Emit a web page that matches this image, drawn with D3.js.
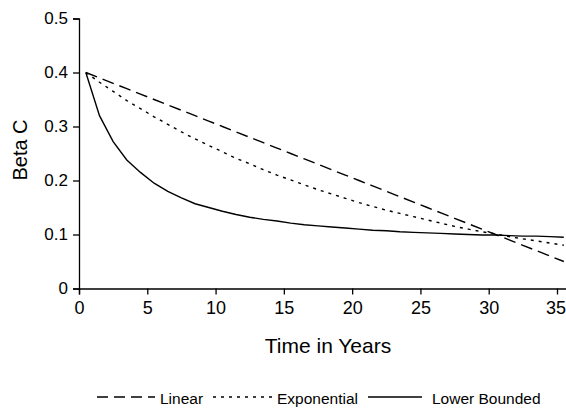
<!DOCTYPE html>
<html><head><meta charset="utf-8">
<script src="https://cdn.jsdelivr.net/npm/d3@7"></script>
<style>body{margin:0;background:#fff;} svg{display:block;font-family:"Liberation Sans",Arial,sans-serif;}</style>
</head><body>
<svg id="c" width="566" height="409"></svg>
<script>
const years = [0.5,1.5,2.5,3.5,4.5,5.5,6.5,7.5,8.5,9.5,10.5,11.5,12.5,13.5,14.5,15.5,16.5,17.5,18.5,19.5,20.5,21.5,22.5,23.5,24.5,25.5,26.5,27.5,28.5,29.5,30.5,31.5,32.5,33.5,34.5,35.5];
const linear = [0.400,0.390,0.380,0.370,0.360,0.350,0.340,0.330,0.320,0.310,0.300,0.290,0.280,0.270,0.260,0.250,0.240,0.230,0.220,0.210,0.200,0.190,0.180,0.170,0.160,0.150,0.140,0.130,0.120,0.110,0.100,0.090,0.080,0.070,0.060,0.050];
const exponential = [0.400,0.382,0.365,0.348,0.333,0.318,0.304,0.290,0.277,0.265,0.253,0.241,0.231,0.220,0.210,0.201,0.192,0.183,0.175,0.167,0.159,0.152,0.145,0.139,0.133,0.127,0.121,0.115,0.110,0.105,0.101,0.096,0.092,0.088,0.084,0.080];
const lowerBounded = [0.400,0.320,0.272,0.238,0.215,0.195,0.180,0.168,0.157,0.150,0.143,0.137,0.132,0.128,0.125,0.121,0.118,0.116,0.114,0.112,0.110,0.108,0.107,0.105,0.104,0.103,0.102,0.101,0.100,0.099,0.099,0.098,0.097,0.097,0.096,0.095];
const xTicks = [0,5,10,15,20,25,30,35];
const yTicks = [0,0.1,0.2,0.3,0.4,0.5];
const seriesNames = ["Linear","Exponential","Lower Bounded"];

const svg = d3.select("#c");
const x = d3.scaleLinear().domain([0,36]).range([79, 79 + 36*478/35]);
const y = d3.scaleLinear().domain([0,0.5]).range([288.5, 18.5]);

const xAxis = svg.append("g").attr("transform",`translate(0,${y(0)})`)
  .call(d3.axisBottom(x).tickValues(xTicks).tickSize(6).tickPadding(7).tickFormat(d3.format("d")));
const yAxis = svg.append("g").attr("transform",`translate(${x(0)},0)`)
  .call(d3.axisLeft(y).tickValues(yTicks).tickSize(6).tickPadding(5).tickFormat(d => d===0 ? "0" : d3.format(".1f")(d)));
[xAxis,yAxis].forEach(a=>{
  a.select(".domain").attr("stroke","#000").attr("stroke-width",1.3);
  a.selectAll(".tick line").attr("stroke","#000").attr("stroke-width",1.3);
  a.selectAll(".tick text").attr("fill","#000").style("font-family","'Liberation Sans',Arial,sans-serif");
});
xAxis.selectAll(".tick text").style("font-size","18px");
yAxis.selectAll(".tick text").style("font-size","17px");
// keep the last label inside the window
xAxis.selectAll(".tick text").filter(d => d === 35)
  .attr("text-anchor","end").attr("x", 566 - x(35) - 0.5);

const styles = [
  {data: linear, dash: "12,6"},
  {data: exponential, dash: "3,5"},
  {data: lowerBounded, dash: null}
];
const line = d3.line().x((d,i)=>x(years[i])).y(d=>y(d));
styles.forEach(s=>{
  svg.append("path").datum(s.data).attr("d",line)
    .attr("fill","none").attr("stroke","#000").attr("stroke-width",1.4)
    .attr("stroke-dasharray",s.dash);
});

svg.append("text").attr("x",328).attr("y",353).attr("text-anchor","middle")
  .style("font-size","21px").text("Time in Years");
svg.append("text").attr("transform","translate(27,150) rotate(-90)").attr("text-anchor","middle")
  .style("font-size","20px").text("Beta C");

const leg = [
  {name: seriesNames[0], x1: 97, x2: 155, tx: 160, dash: "11,6"},
  {name: seriesNames[1], x1: 213, x2: 272, tx: 277, dash: "3,5"},
  {name: seriesNames[2], x1: 368, x2: 422, tx: 432, dash: null}
];
leg.forEach(l=>{
  svg.append("line").attr("x1",l.x1).attr("x2",l.x2).attr("y1",397).attr("y2",397)
    .attr("stroke","#000").attr("stroke-width",1.5).attr("stroke-dasharray",l.dash);
  svg.append("text").attr("x",l.tx).attr("y",404).style("font-size","15.5px").text(l.name);
});
</script>
</body></html>
